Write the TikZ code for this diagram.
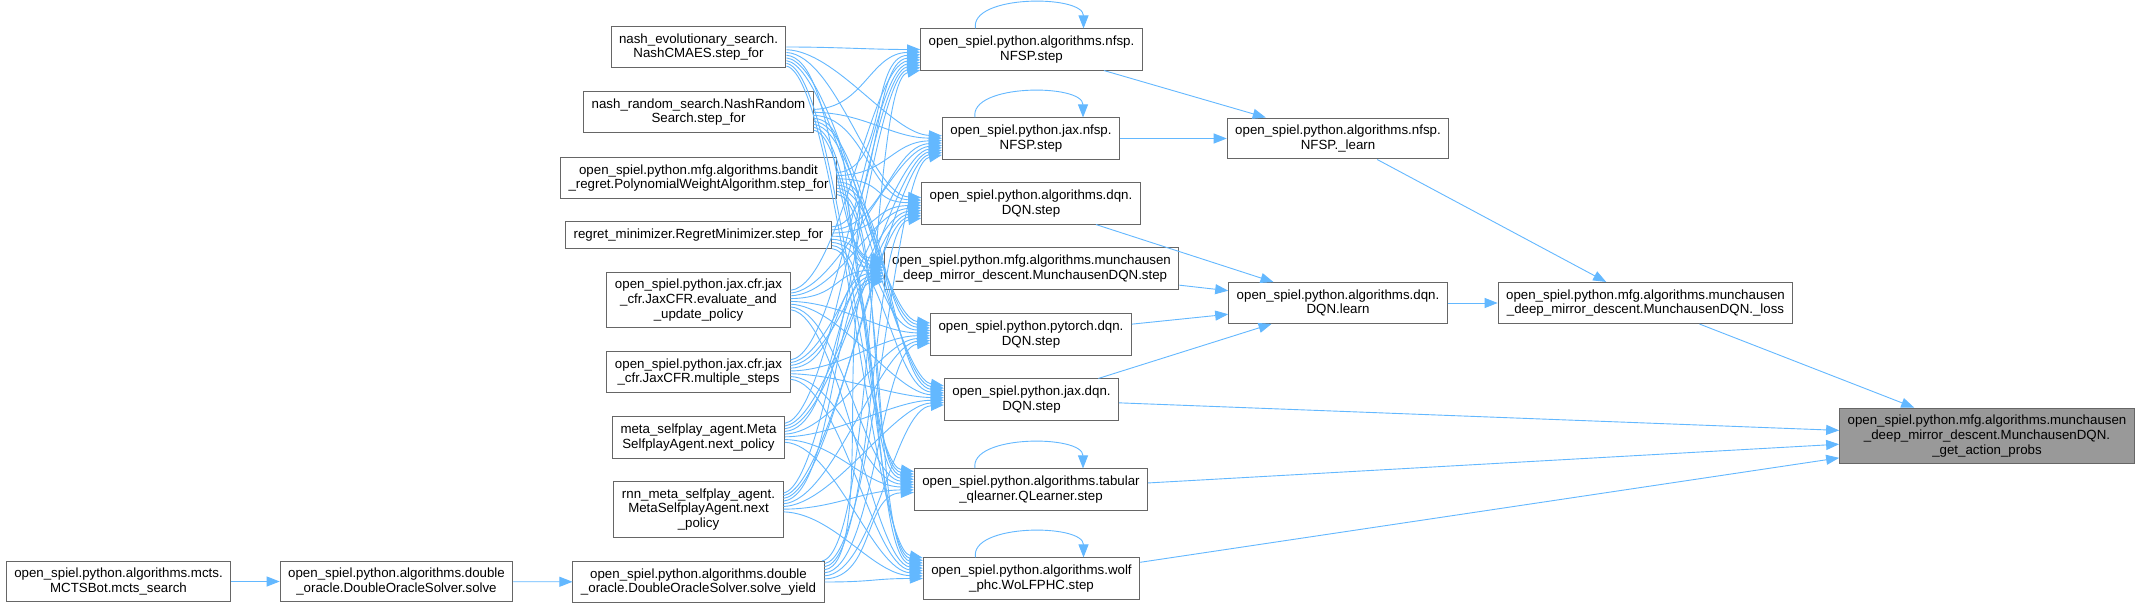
\documentclass[tikz,border=0pt]{standalone}
\usepackage{fontspec}
\setmainfont{Liberation Sans}
\usetikzlibrary{arrows.meta}
\definecolor{edgeblue}{HTML}{63B8FF}
\definecolor{boxgray}{HTML}{666666}
\definecolor{rootgray}{HTML}{999999}
\tikzset{
  fn/.style={draw=boxgray, line width=1pt, fill=white, align=center, inner xsep=8pt, inner ysep=7pt, font=\fontsize{13.3}{14.7}\selectfont},
  rootfn/.style={fn, fill=rootgray},
  call/.style={draw=edgeblue, line width=0.9pt, -{Triangle[length=13pt,width=10pt]}},
}
\begin{document}
\begin{tikzpicture}[x=1pt, y=-1pt]
\fill[white] (0,0) rectangle (2140,607);
\useasboundingbox (0,0) rectangle (2140,607);
% first column
\node[fn] (mcts) at (118.5,581.5) {open\_spiel.python.algorithms.mcts.\\MCTSBot.mcts\_search};
\node[fn] (solve) at (396.5,581.5) {open\_spiel.python.algorithms.double\\\_oracle.DoubleOracleSolver.solve};
% callers of the agents
\node[fn] (evo) at (698.5,47) {nash\_evolutionary\_search.\\NashCMAES.step\_for};
\node[fn] (rand) at (698.5,112) {nash\_random\_search.NashRandom\\Search.step\_for};
\node[fn] (bandit) at (698.5,178) {open\_spiel.python.mfg.algorithms.bandit\\\_regret.PolynomialWeightAlgorithm.step\_for};
\node[fn] (regret) at (698.5,235) {regret\_minimizer.RegretMinimizer.step\_for};
\node[fn] (eval) at (698.5,300) {open\_spiel.python.jax.cfr.jax\\\_cfr.JaxCFR.evaluate\_and\\\_update\_policy};
\node[fn] (msteps) at (698.5,372) {open\_spiel.python.jax.cfr.jax\\\_cfr.JaxCFR.multiple\_steps};
\node[fn] (meta) at (698.5,437.5) {meta\_selfplay\_agent.Meta\\SelfplayAgent.next\_policy};
\node[fn] (rnn) at (698.5,509.5) {rnn\_meta\_selfplay\_agent.\\MetaSelfplayAgent.next\\\_policy};
\node[fn] (yield) at (698.5,582) {open\_spiel.python.algorithms.double\\\_oracle.DoubleOracleSolver.solve\_yield};
% agent steps
\node[fn] (ns) at (1031.5,49.5) {open\_spiel.python.algorithms.nfsp.\\NFSP.step};
\node[fn] (jns) at (1031,138.5) {open\_spiel.python.jax.nfsp.\\NFSP.step};
\node[fn] (ds) at (1031,203.5) {open\_spiel.python.algorithms.dqn.\\DQN.step};
\node[fn] (ms) at (1031.5,268.5) {open\_spiel.python.mfg.algorithms.munchausen\\\_deep\_mirror\_descent.MunchausenDQN.step};
\node[fn] (pds) at (1031,334.5) {open\_spiel.python.pytorch.dqn.\\DQN.step};
\node[fn] (jds) at (1031.5,399.5) {open\_spiel.python.jax.dqn.\\DQN.step};
\node[fn] (qs) at (1031,489.5) {open\_spiel.python.algorithms.tabular\\\_qlearner.QLearner.step};
\node[fn] (ws) at (1031.5,578.5) {open\_spiel.python.algorithms.wolf\\\_phc.WoLFPHC.step};
% learners
\node[fn] (nl) at (1338,138.5) {open\_spiel.python.algorithms.nfsp.\\NFSP.\_learn};
\node[fn] (dl) at (1338,303) {open\_spiel.python.algorithms.dqn.\\DQN.learn};
\node[fn] (loss) at (1645.5,303) {open\_spiel.python.mfg.algorithms.munchausen\\\_deep\_mirror\_descent.MunchausenDQN.\_loss};
\node[rootfn] (root) at (1987,436) {open\_spiel.python.mfg.algorithms.munchausen\\\_deep\_mirror\_descent.MunchausenDQN.\\\_get\_action\_probs};

\draw[call] (mcts) -- (solve);
\draw[call] (solve) -- (yield);
\foreach \s [count=\i from 0] in {evo,rand,bandit,regret,eval,msteps,meta,rnn,yield}{
  \foreach \t [count=\j from 0] in {ns,jns,ds,ms,pds,jds,qs,ws}{
    \pgfmathsetmacro\off{\i/8-\j/7}
    \draw[call] (\s) .. controls ([xshift=50pt,yshift={30*\off}]\s.east) and ([xshift=-50pt,yshift={-30*\off}]\t.west) .. (\t);
  }
}
% loops on the agents
\foreach \n in {ns,jns,qs,ws}
  \draw[call] ([xshift=-56pt]\n.north) .. controls +(-6,-34) and +(0,-34) .. ([xshift=52pt]\n.north);
\foreach \t in {ns,jns} \draw[call] (\t) -- (nl);
\foreach \t in {ds,ms,pds,jds} \draw[call] (\t) -- (dl);
\draw[call] (nl) -- (loss);
\draw[call] (dl) -- (loss);
\foreach \t in {loss,jds,qs,ws} \draw[call] (\t) -- (root);
\end{tikzpicture}
\end{document}
